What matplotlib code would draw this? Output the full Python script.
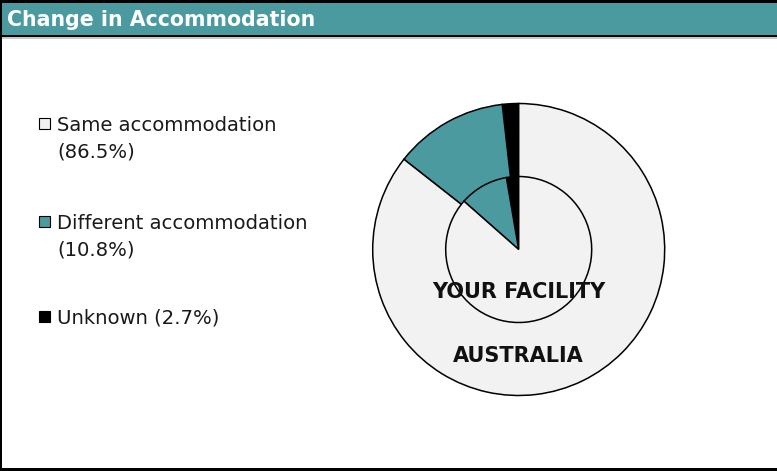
import matplotlib.pyplot as plt
from matplotlib.patches import Rectangle

# data
categories = ['Same accommodation', 'Different accommodation', 'Unknown']
facility_pct = [86.5, 10.8, 2.7]
australia_pct = [85.6, 12.6, 1.8]
colours = ['#f2f2f2', '#4a9aa0', '#000000']
legend_lines = [['Same accommodation', '(86.5%)'],
                ['Different accommodation', '(10.8%)'],
                ['Unknown (2.7%)']]
title = 'Change in Accommodation'

W, H = 777, 471
TEAL = '#4a9aa0'

fig = plt.figure(figsize=(W / 100, H / 100), dpi=100)
plt.rcParams['font.family'] = 'DejaVu Sans'


def box(x, y, w, h, colour, edge='none', lw=0):
    # x, y in pixels measured from the top-left corner
    fig.add_artist(Rectangle((x / W, 1 - (y + h) / H), w / W, h / H,
                             transform=fig.transFigure, facecolor=colour,
                             edgecolor=edge, lw=lw))


# frame and header
box(0, 0, W, 37, 'black')
box(2, 3, W - 2, 32, TEAL)
box(0, 37, W, 1.5, '#c8c8c8')
box(0, 0, 2, H, 'black')
box(0, H - 3, W, 3, 'black')
fig.text(7 / W, 1 - 26.5 / H, title, color='white', fontweight='bold',
         fontsize=14.8, va='baseline', ha='left')

# legend
baselines = [[131, 158], [229, 256], [324]]
for lines, ys, col in zip(legend_lines, baselines, colours):
    box(39, ys[0] - 13, 11, 11, col, edge='black', lw=0.8)
    for txt, y in zip(lines, ys):
        fig.text(57 / W, 1 - y / H, txt, fontsize=14.1, va='baseline',
                 ha='left', color='#1a1a1a')

# pies
cx, cy, r = 518.7, 249.5, 146
half = 165
ax = fig.add_axes([(cx - half) / W, (H - cy - half) / H, 2 * half / W, 2 * half / H])
wp = dict(edgecolor='black', linewidth=1.1)
ax.pie(australia_pct[::-1], colors=colours[::-1], startangle=90,
       counterclock=True, radius=1.0, wedgeprops=wp)
ax.pie(facility_pct[::-1], colors=colours[::-1], startangle=90,
       counterclock=True, radius=0.5, wedgeprops=wp)
ax.set_xlim(-half / r, half / r)
ax.set_ylim(-half / r, half / r)
ax.set_aspect('equal')
ax.axis('off')

ax.text(0, -42 / r, 'YOUR FACILITY', ha='center', va='center',
        fontsize=15, fontweight='bold', color='#111111')
ax.text(0, -107 / r, 'AUSTRALIA', ha='center', va='center',
        fontsize=15, fontweight='bold', color='#111111')

fig.savefig('out.png', dpi=100)
